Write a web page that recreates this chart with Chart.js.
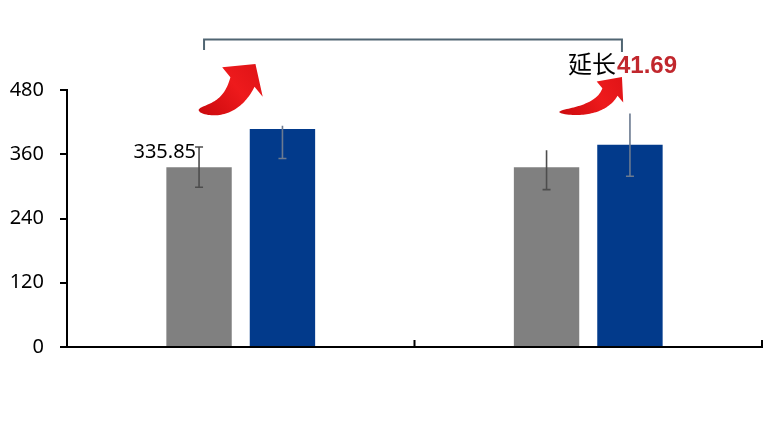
<!DOCTYPE html>
<html lang="zh">
<head>
  <meta charset="UTF-8">
  <title>延长</title>
  <script src="https://cdn.jsdelivr.net/npm/chart.js"></script>
  <style>
    body {
      margin: 0;
      background: #fff;
    }
    canvas {
      display: block;
    }
  </style>
</head>
<body>
  <canvas id="chart" width="784" height="427"></canvas>
  <script>
    // data
    const categories = ['组1', '组2'];
    const seriesNames = ['对照', '处理'];
    const grayValues = [335.85, 335.85];
    const blueValues = [407, 377.54];
    // error bar ends as seen (upper, lower)
    const grayErrUpper = [373.5, 367.5];
    const grayErrLower = [298.5, 294];
    const blueErrUpper = [413, 436];
    const blueErrLower = [352, 319];
    const yTicks = [0, 120, 240, 360, 480];

    const grayColor = '#808080';
    const blueColor = '#023a8b';

    // curved red arrow, body tapers from tail to head
    function curvedArrow(ctx, tail, ctrl, base, tip, bodyW, headW) {
      const N = 40;
      const left = [], right = [];
      for (let i = 0; i <= N; i++) {
        const t = i / N;
        const x = (1 - t) * (1 - t) * tail[0] + 2 * (1 - t) * t * ctrl[0] + t * t * base[0];
        const y = (1 - t) * (1 - t) * tail[1] + 2 * (1 - t) * t * ctrl[1] + t * t * base[1];
        const dx = 2 * (1 - t) * (ctrl[0] - tail[0]) + 2 * t * (base[0] - ctrl[0]);
        const dy = 2 * (1 - t) * (ctrl[1] - tail[1]) + 2 * t * (base[1] - ctrl[1]);
        const len = Math.hypot(dx, dy) || 1;
        const nx = -dy / len, ny = dx / len;
        const w = bodyW / 2 * Math.pow(t, 0.5);
        left.push([x + nx * w, y + ny * w]);
        right.push([x - nx * w, y - ny * w]);
      }
      const hdx = tip[0] - base[0], hdy = tip[1] - base[1];
      const hl = Math.hypot(hdx, hdy);
      const hnx = -hdy / hl, hny = hdx / hl;

      ctx.beginPath();
      ctx.moveTo(left[0][0], left[0][1]);
      left.forEach(p => ctx.lineTo(p[0], p[1]));
      ctx.lineTo(base[0] + hnx * headW / 2, base[1] + hny * headW / 2);
      ctx.lineTo(tip[0], tip[1]);
      ctx.lineTo(base[0] - hnx * headW / 2, base[1] - hny * headW / 2);
      for (let i = right.length - 1; i >= 0; i--) ctx.lineTo(right[i][0], right[i][1]);
      ctx.closePath();
      const grad = ctx.createLinearGradient(tail[0], tail[1], tip[0], tip[1]);
      grad.addColorStop(0, '#cc0a0e');
      grad.addColorStop(0.6, '#ee1a1c');
      grad.addColorStop(1, '#e01417');
      ctx.fillStyle = grad;
      ctx.fill();
    }

    const extras = {
      id: 'extras',
      afterDatasetsDraw(chart) {
        const ctx = chart.ctx;
        const y = chart.scales.y;
        const x = chart.scales.x;
        const grayBars = chart.getDatasetMeta(0).data;
        const blueBars = chart.getDatasetMeta(1).data;
        ctx.save();

        // error bars
        function errBar(bar, up, lo, color, capTop) {
          const yu = y.getPixelForValue(up);
          const yl = y.getPixelForValue(lo);
          ctx.strokeStyle = color;
          ctx.lineWidth = 1.6;
          ctx.beginPath();
          ctx.moveTo(bar.x, yu);
          ctx.lineTo(bar.x, yl);
          ctx.moveTo(bar.x - 4, yl);
          ctx.lineTo(bar.x + 4, yl);
          if (capTop) {
            ctx.moveTo(bar.x - 4, yu);
            ctx.lineTo(bar.x + 4, yu);
          }
          ctx.stroke();
        }
        grayBars.forEach((b, i) => errBar(b, grayErrUpper[i], grayErrLower[i], '#4d4d4d', i === 0));
        blueBars.forEach((b, i) => errBar(b, blueErrUpper[i], blueErrLower[i], '#6b7a90', false));

        // inner tick marks on the category axis
        const p0 = x.getPixelForValue(0), p1 = x.getPixelForValue(1);
        const half = (p1 - p0) / 2;
        ctx.strokeStyle = '#000';
        ctx.lineWidth = 2;
        ctx.beginPath();
        [p0 + half, p1 + half].forEach(px => {
          ctx.moveTo(px, y.bottom);
          ctx.lineTo(px, y.bottom - 7);
        });
        ctx.stroke();

        // value label on first gray bar
        ctx.fillStyle = '#000';
        ctx.font = '20px "Noto Sans", sans-serif';
        ctx.textAlign = 'right';
        ctx.textBaseline = 'middle';
        ctx.fillText(grayValues[0].toFixed(2), grayBars[0].x - 3, y.getPixelForValue(grayErrUpper[0]) + 5);

        // bracket between first gray and second blue
        const bl = grayBars[0].x + 5, br = blueBars[1].x - 8;
        ctx.strokeStyle = '#506572';
        ctx.lineWidth = 2;
        ctx.beginPath();
        ctx.moveTo(bl, 50);
        ctx.lineTo(bl, 39.5);
        ctx.lineTo(br, 39.5);
        ctx.lineTo(br, 52);
        ctx.stroke();

        // arrows
        const a = blueBars[0];
        curvedArrow(ctx, [a.x - 84, 110], [a.x - 52, 112], [a.x - 40, 82], [a.x - 27, 64], 26, 50);
        const c = blueBars[1];
        curvedArrow(ctx, [c.x - 71, 112], [c.x - 30, 112], [c.x - 20, 92], [c.x - 8, 77], 17, 34);

        // extension label
        const diff = (blueValues[1] - grayValues[1]).toFixed(2);
        ctx.textAlign = 'left';
        ctx.textBaseline = 'alphabetic';
        ctx.fillStyle = '#000';
        ctx.font = '24px "Noto Sans CJK SC", sans-serif';
        const tx = c.x - 62;
        ctx.fillText('延长', tx, 73);
        const w = ctx.measureText('延长').width;
        ctx.fillStyle = '#c1272d';
        ctx.font = 'bold 24px "Liberation Sans", Arial, sans-serif';
        ctx.fillText(diff, tx + w + 1, 73);

        ctx.restore();
      }
    };

    new Chart(document.getElementById('chart'), {
      type: 'bar',
      data: {
        labels: categories,
        datasets: [
          { label: seriesNames[0], data: grayValues, backgroundColor: grayColor, borderWidth: 0 },
          { label: seriesNames[1], data: blueValues, backgroundColor: blueColor, borderWidth: 0 }
        ]
      },
      options: {
        responsive: false,
        animation: false,
        devicePixelRatio: 1,
        categoryPercentage: 0.48,
        barPercentage: 0.784,
        layout: { padding: { top: 90, left: 7, right: 22, bottom: 80 } },
        plugins: {
          legend: { display: false },
          tooltip: { enabled: false }
        },
        scales: {
          x: {
            z: 1,
            grid: { drawOnChartArea: false, drawTicks: false, color: '#000' },
            border: { color: '#000', width: 2 },
            ticks: { display: false }
          },
          y: {
            z: 1,
            min: 0,
            max: 480,
            afterBuildTicks: s => { s.ticks = yTicks.map(v => ({ value: v })); },
            afterFit: s => { s.width = 60; },
            grid: { drawOnChartArea: false, tickLength: 7, color: '#000', lineWidth: 2 },
            border: { color: '#000', width: 2 },
            ticks: {
              color: '#000',
              padding: 16,
              font: { family: '"Noto Sans", sans-serif', size: 20 }
            }
          }
        }
      },
      plugins: [extras]
    });
  </script>
</body>
</html>
